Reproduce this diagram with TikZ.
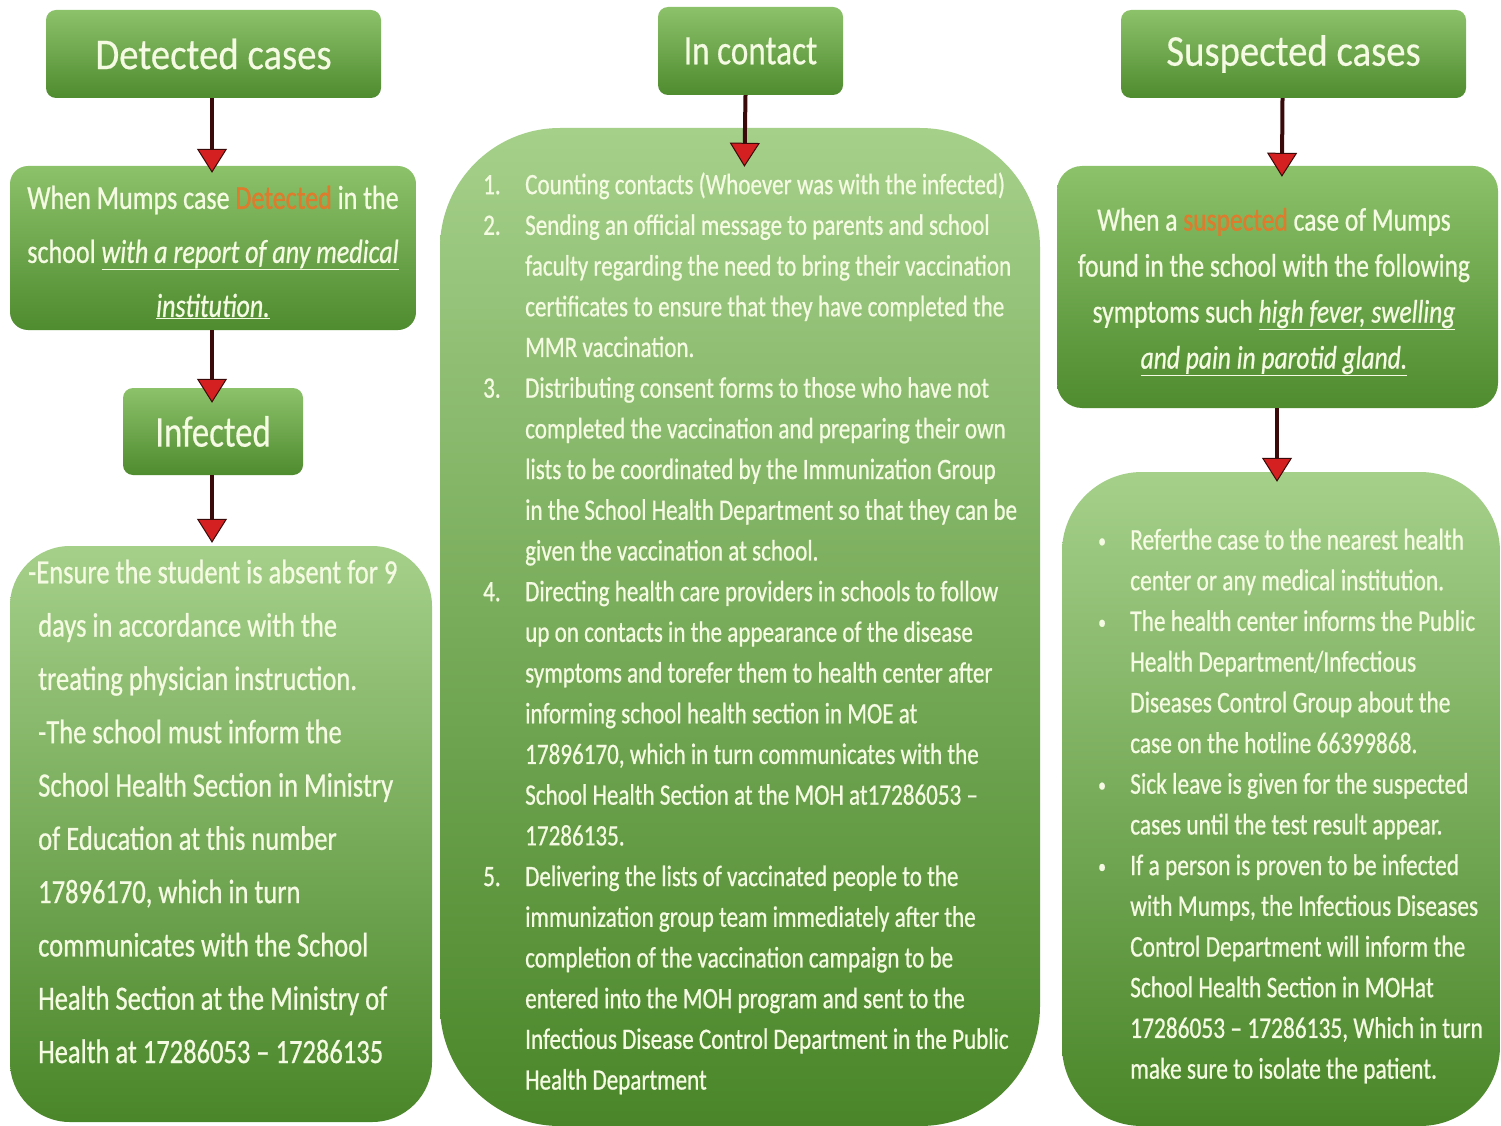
\documentclass[tikz,border=0pt]{standalone}
\usepackage{fontspec}
\setmainfont{Carlito}
\newfontfamily\headfont{Carlito}[FakeStretch=0.88,FakeBold=0.4]
\newfontfamily\headnarrow{Carlito}[FakeStretch=0.79,FakeBold=0.4]
\newfontfamily\bodyfont{Carlito}[FakeStretch=0.78,FakeBold=0.7]
\usetikzlibrary{arrows.meta}
\definecolor{txt}{HTML}{F5FAE2}
\definecolor{org}{HTML}{DE7B2C}
\definecolor{htop}{HTML}{8CC26A}
\definecolor{hbot}{HTML}{4F8B2F}
\definecolor{btop}{HTML}{A5D08A}
\definecolor{bbot}{HTML}{4A8629}
\definecolor{shaft}{HTML}{3A0A0A}
\definecolor{headred}{HTML}{D42020}
\tikzset{
  hbox/.style={rectangle, rounded corners=10pt, top color=htop, bottom color=hbot, draw=none, inner sep=0pt, text=txt, font=\headfont\fontsize{44}{50}\selectfont},
  gbox/.style={rectangle, top color=btop, bottom color=bbot, draw=none, inner sep=0pt},
  btext/.style={inner sep=0pt, text=txt, align=left, anchor=north west},
  redarrow/.style={draw=shaft, line width=4pt, -{Triangle[width=30pt,length=24pt,fill=headred,line width=1pt]}},
}
\newcommand{\ul}[1]{\underline{\textit{#1}}}
\newcommand{\bul}{\makebox[32pt][l]{\raisebox{2pt}{\fontsize{20}{20}\selectfont\textbullet}}}
\begin{document}
\begin{tikzpicture}[x=1pt,y=-1pt]
\useasboundingbox (0,0) rectangle (1501,1126);
\fill[white] (0,0) rectangle (1501,1126);

% header boxes
\node[hbox, minimum width=335pt, minimum height=88pt] (det) at (213.5,54) {Detected cases};
\node[hbox, minimum width=185pt, minimum height=88pt, font=\headnarrow\fontsize{42}{48}\selectfont] (cont) at (750.5,51) {In contact};
\node[hbox, minimum width=345pt, minimum height=88pt] (susp) at (1293.5,54) {Suspected cases};

% left column
\node[gbox, rounded corners=18pt, top color=htop, bottom color=hbot, minimum width=406pt, minimum height=164pt] (when) at (213,248) {};
\node[hbox, minimum width=180pt, minimum height=87pt, font=\headnarrow\fontsize{44}{50}\selectfont] (inf) at (213,431.5) {Infected};
\node[gbox, rounded corners=60pt, minimum width=422pt, minimum height=576pt] (lbig) at (221,834) {};

% middle
\node[gbox, rounded corners=120pt, minimum width=600pt, minimum height=998pt] (mid) at (740,627) {};

% right column
\node[gbox, rounded corners=25pt, top color=htop, bottom color=hbot, minimum width=441pt, minimum height=242pt] (rtop) at (1277.5,287) {};
\node[gbox, rounded corners=80pt, minimum width=438pt, minimum height=654pt] (rbot) at (1281,799) {};

% arrows
\draw[redarrow, shorten >=-7pt] ([xshift=-1.5pt]det.south) -- ([xshift=-1pt]when.north);
\draw[redarrow, shorten >=-15pt] ([xshift=-1pt]when.south) -- ([xshift=-1pt]inf.north);
\draw[redarrow, shorten >=3pt] ([xshift=-1pt]inf.south) -- ([xshift=-9pt]lbig.north);
\draw[redarrow, shorten >=-39pt] ([xshift=-5pt]cont.south) -- ([xshift=5pt]mid.north);
\draw[redarrow, shorten >=-11pt] ([xshift=-11pt]susp.south) -- ([xshift=4.5pt]rtop.north);
\draw[redarrow, shorten >=-10pt] ([xshift=-0.5pt]rtop.south) -- ([xshift=-4pt]rbot.north);

% texts
\node[btext, align=center, anchor=north, font=\bodyfont\fontsize{33.4}{54}\selectfont] (whentxt) at (213,185.5)
{When Mumps case \textcolor{org}{Detected} in the\\
school \ul{with a report of any medical}\\
\ul{institution.}};

\node[btext, font=\bodyfont\fontsize{34}{53.3}\selectfont] (ltxt) at (38,559.5)
{\hspace*{-10pt}-Ensure the student is absent for 9\\
days in accordance with the\\
treating physician instruction.\\
-The school must inform the\\
School Health Section in Ministry\\
of Education at this number\\
17896170, which in turn\\
communicates with the School\\
Health Section at the Ministry of\\
Health at 17286053 – 17286135};

\node[btext, font=\bodyfont\fontsize{29.6}{40.7}\selectfont] (mtxt) at (483,172.3)
{\makebox[42pt][l]{1.}Counting contacts (Whoever was with the infected)\\
\makebox[42pt][l]{2.}Sending an official message to parents and school\\
\hspace*{42pt}faculty regarding the need to bring their vaccination\\
\hspace*{42pt}certificates to ensure that they have completed the\\
\hspace*{42pt}MMR vaccination.\\
\makebox[42pt][l]{3.}Distributing consent forms to those who have not\\
\hspace*{42pt}completed the vaccination and preparing their own\\
\hspace*{42pt}lists to be coordinated by the Immunization Group\\
\hspace*{42pt}in the School Health Department so that they can be\\
\hspace*{42pt}given the vaccination at school.\\
\makebox[42pt][l]{4.}Directing health care providers in schools to follow\\
\hspace*{42pt}up on contacts in the appearance of the disease\\
\hspace*{42pt}symptoms and torefer them to health center after\\
\hspace*{42pt}informing school health section in MOE at\\
\hspace*{42pt}17896170, which in turn communicates with the\\
\hspace*{42pt}School Health Section at the MOH at17286053 –\\
\hspace*{42pt}17286135.\\
\makebox[42pt][l]{5.}Delivering the lists of vaccinated people to the\\
\hspace*{42pt}immunization group team immediately after the\\
\hspace*{42pt}completion of the vaccination campaign to be\\
\hspace*{42pt}entered into the MOH program and sent to the\\
\hspace*{42pt}Infectious Disease Control Department in the Public\\
\hspace*{42pt}Health Department};

\node[btext, align=center, anchor=north, font=\bodyfont\fontsize{32.7}{46}\selectfont] (rtxt) at (1274,207.7)
{When a \textcolor{org}{suspected} case of Mumps\\
found in the school with the following\\
symptoms such \ul{high fever, swelling}\\
\ul{and pain in parotid gland.}};

\node[btext, font=\bodyfont\fontsize{30}{40.7}\selectfont] (rbtxt) at (1098,528.5)
{\bul Referthe case to the nearest health\\
\hspace*{32pt}center or any medical institution.\\
\bul The health center informs the Public\\
\hspace*{32pt}Health Department/Infectious\\
\hspace*{32pt}Diseases Control Group about the\\
\hspace*{32pt}case on the hotline 66399868.\\
\bul Sick leave is given for the suspected\\
\hspace*{32pt}cases until the test result appear.\\
\bul If a person is proven to be infected\\
\hspace*{32pt}with Mumps, the Infectious Diseases\\
\hspace*{32pt}Control Department will inform the\\
\hspace*{32pt}School Health Section in MOHat\\
\hspace*{32pt}17286053 – 17286135, Which in turn\\
\hspace*{32pt}make sure to isolate the patient.};
\end{tikzpicture}
\end{document}
